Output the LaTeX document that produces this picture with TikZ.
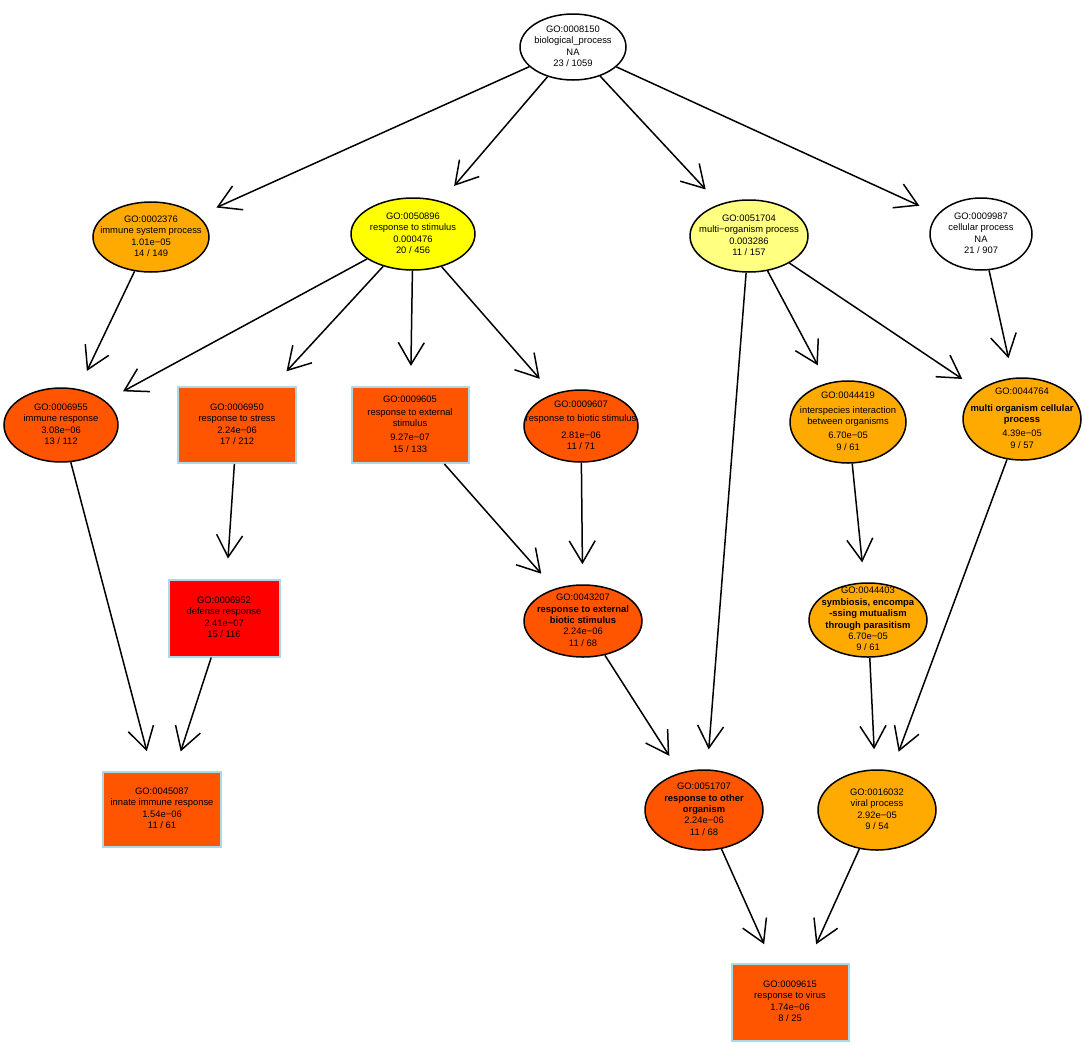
\documentclass[tikz,border=0pt]{standalone}
\usepackage{fontspec}
\setmainfont{Liberation Sans}
\usetikzlibrary{shapes.geometric,arrows.meta}
\definecolor{hcA}{HTML}{FF5500}
\definecolor{hcB}{HTML}{FFAA00}
\definecolor{hcC}{HTML}{FFFF00}
\definecolor{hcD}{HTML}{FFFF80}
\definecolor{hcR}{HTML}{FF0000}
\definecolor{boxblue}{HTML}{ADD8E6}
\newcommand{\gl}[1]{\smash{\raisebox{-2.4pt}{\makebox[0pt]{\begin{tabular}{@{}c@{}}#1\end{tabular}}}}}
\begin{document}
\begin{tikzpicture}[x=1pt,y=-1pt,
  base/.style={inner sep=0pt, font=\fontsize{9.4}{11.4}\selectfont},
  ell/.style={base, ellipse, draw=black, line width=1.5pt},
  gobox/.style={base, rectangle, draw=boxblue, line width=2pt},
  edge/.style={line width=1.5pt, -{Straight Barb[length=22pt,width=26pt]}, shorten >=20pt}]
\useasboundingbox (0,0) rectangle (1084,1044);

\node[ell, fill=white, minimum width=106pt, minimum height=66pt] (n8150) at (573,47) {\gl{GO:0008150\\biological\_process\\NA\\23 / 1059}};

\node[ell, fill=hcB, minimum width=116pt, minimum height=70pt] (n2376) at (151,237) {\gl{GO:0002376\\immune system process\\1.01e−05\\14 / 149}};
\node[ell, fill=hcC, minimum width=124pt, minimum height=72pt] (n50896) at (413,234) {\gl{GO:0050896\\response to stimulus\\0.000476\\20 / 456}};
\node[ell, fill=hcD, minimum width=118pt, minimum height=72pt] (n51704) at (749,236) {\gl{GO:0051704\\multi−organism process\\0.003286\\11 / 157}};
\node[ell, fill=white, minimum width=102pt, minimum height=72pt] (n9987) at (981,234) {\gl{GO:0009987\\cellular process\\NA\\21 / 907}};

\node[ell, fill=hcA, minimum width=114pt, minimum height=74pt] (n6955) at (61,425) {\gl{GO:0006955\\immune response\\3.08e−06\\13 / 112}};
\node[gobox, fill=hcA, minimum width=118pt, minimum height=76pt] (n6950) at (237,425) {\gl{GO:0006950\\response to stress\\2.24e−06\\17 / 212}};
\node[gobox, fill=hcA, minimum width=117pt, minimum height=76pt] (n9605) at (410,425) {\gl{GO:0009605\\[1pt]response to external\\stimulus\\[3pt]9.27e−07\\15 / 133}};
\node[ell, fill=hcA, minimum width=114pt, minimum height=72pt] (n9607) at (581,426) {\gl{GO:0009607\\[3pt]response to biotic stimulus\\[5pt]2.81e−06\\11 / 71}};
\node[ell, fill=hcB, minimum width=116pt, minimum height=82pt] (n44419) at (848,422) {\gl{GO:0044419\\[3pt]interspecies interaction\\between organisms\\[3pt]6.70e−05\\9 / 61}};
\node[ell, fill=hcB, minimum width=118pt, minimum height=82pt] (n44764) at (1022,419) {\gl{GO:0044764\\[5pt]\textbf{multi organism cellular}\\\textbf{process}\\[3pt]4.39e−05\\9 / 57}};

\node[gobox, fill=hcR, minimum width=111pt, minimum height=77pt] (n6952) at (224,618) {\gl{GO:0006952\\defense response\\2.41e−07\\15 / 116}};
\node[ell, fill=hcA, minimum width=118pt, minimum height=72pt] (n43207) at (583,621) {\gl{GO:0043207\\\textbf{response to external}\\\textbf{biotic stimulus}\\2.24e−06\\11 / 68}};
\node[ell, fill=hcB, minimum width=118pt, minimum height=74pt] (n44403) at (868,620) {\gl{\renewcommand\arraystretch{0.93}GO:0044403\\\textbf{symbiosis, encompa}\\\textbf{-ssing mutualism}\\\textbf{through parasitism}\\6.70e−05\\9 / 61}};

\node[gobox, fill=hcA, minimum width=118pt, minimum height=75pt] (n45087) at (162,809) {\gl{GO:0045087\\innate immune response\\1.54e−06\\11 / 61}};
\node[ell, fill=hcA, minimum width=118pt, minimum height=80pt] (n51707) at (704,810) {\gl{GO:0051707\\\textbf{response to other}\\\textbf{organism}\\2.24e−06\\11 / 68}};
\node[ell, fill=hcB, minimum width=118pt, minimum height=80pt] (n16032) at (877,810) {\gl{GO:0016032\\viral process\\2.92e−05\\9 / 54}};

\node[gobox, fill=hcA, minimum width=117pt, minimum height=77pt] (n9615) at (790,1002) {\gl{GO:0009615\\response to virus\\1.74e−06\\8 / 25}};

\draw[edge] (n8150) -- (n2376);
\draw[edge] (n8150) -- (n50896);
\draw[edge] (n8150) -- (n51704);
\draw[edge] (n8150) -- (n9987);
\draw[edge] (n2376) -- (n6955);
\draw[edge] (n50896) -- (n6955);
\draw[edge] (n50896) -- (n6950);
\draw[edge] (n50896) -- (n9605);
\draw[edge] (n50896) -- (n9607);
\draw[edge] (n6955) -- (n45087);
\draw[edge] (n6950) -- (n6952);
\draw[edge] (n6952) -- (n45087);
\draw[edge] (n9605) -- (n43207);
\draw[edge] (n9607) -- (n43207);
\draw[edge] (n43207) -- (n51707);
\draw[edge] (n51704) -- (n51707);
\draw[edge] (n51704) -- (n44419);
\draw[edge] (n51704) -- (n44764);
\draw[edge] (n9987) -- (n44764);
\draw[edge] (n44419) -- (n44403);
\draw[edge] (n44403) -- (n16032);
\draw[edge] (n44764) -- (n16032);
\draw[edge] (n51707) -- (n9615);
\draw[edge] (n16032) -- (n9615);
\end{tikzpicture}
\end{document}
